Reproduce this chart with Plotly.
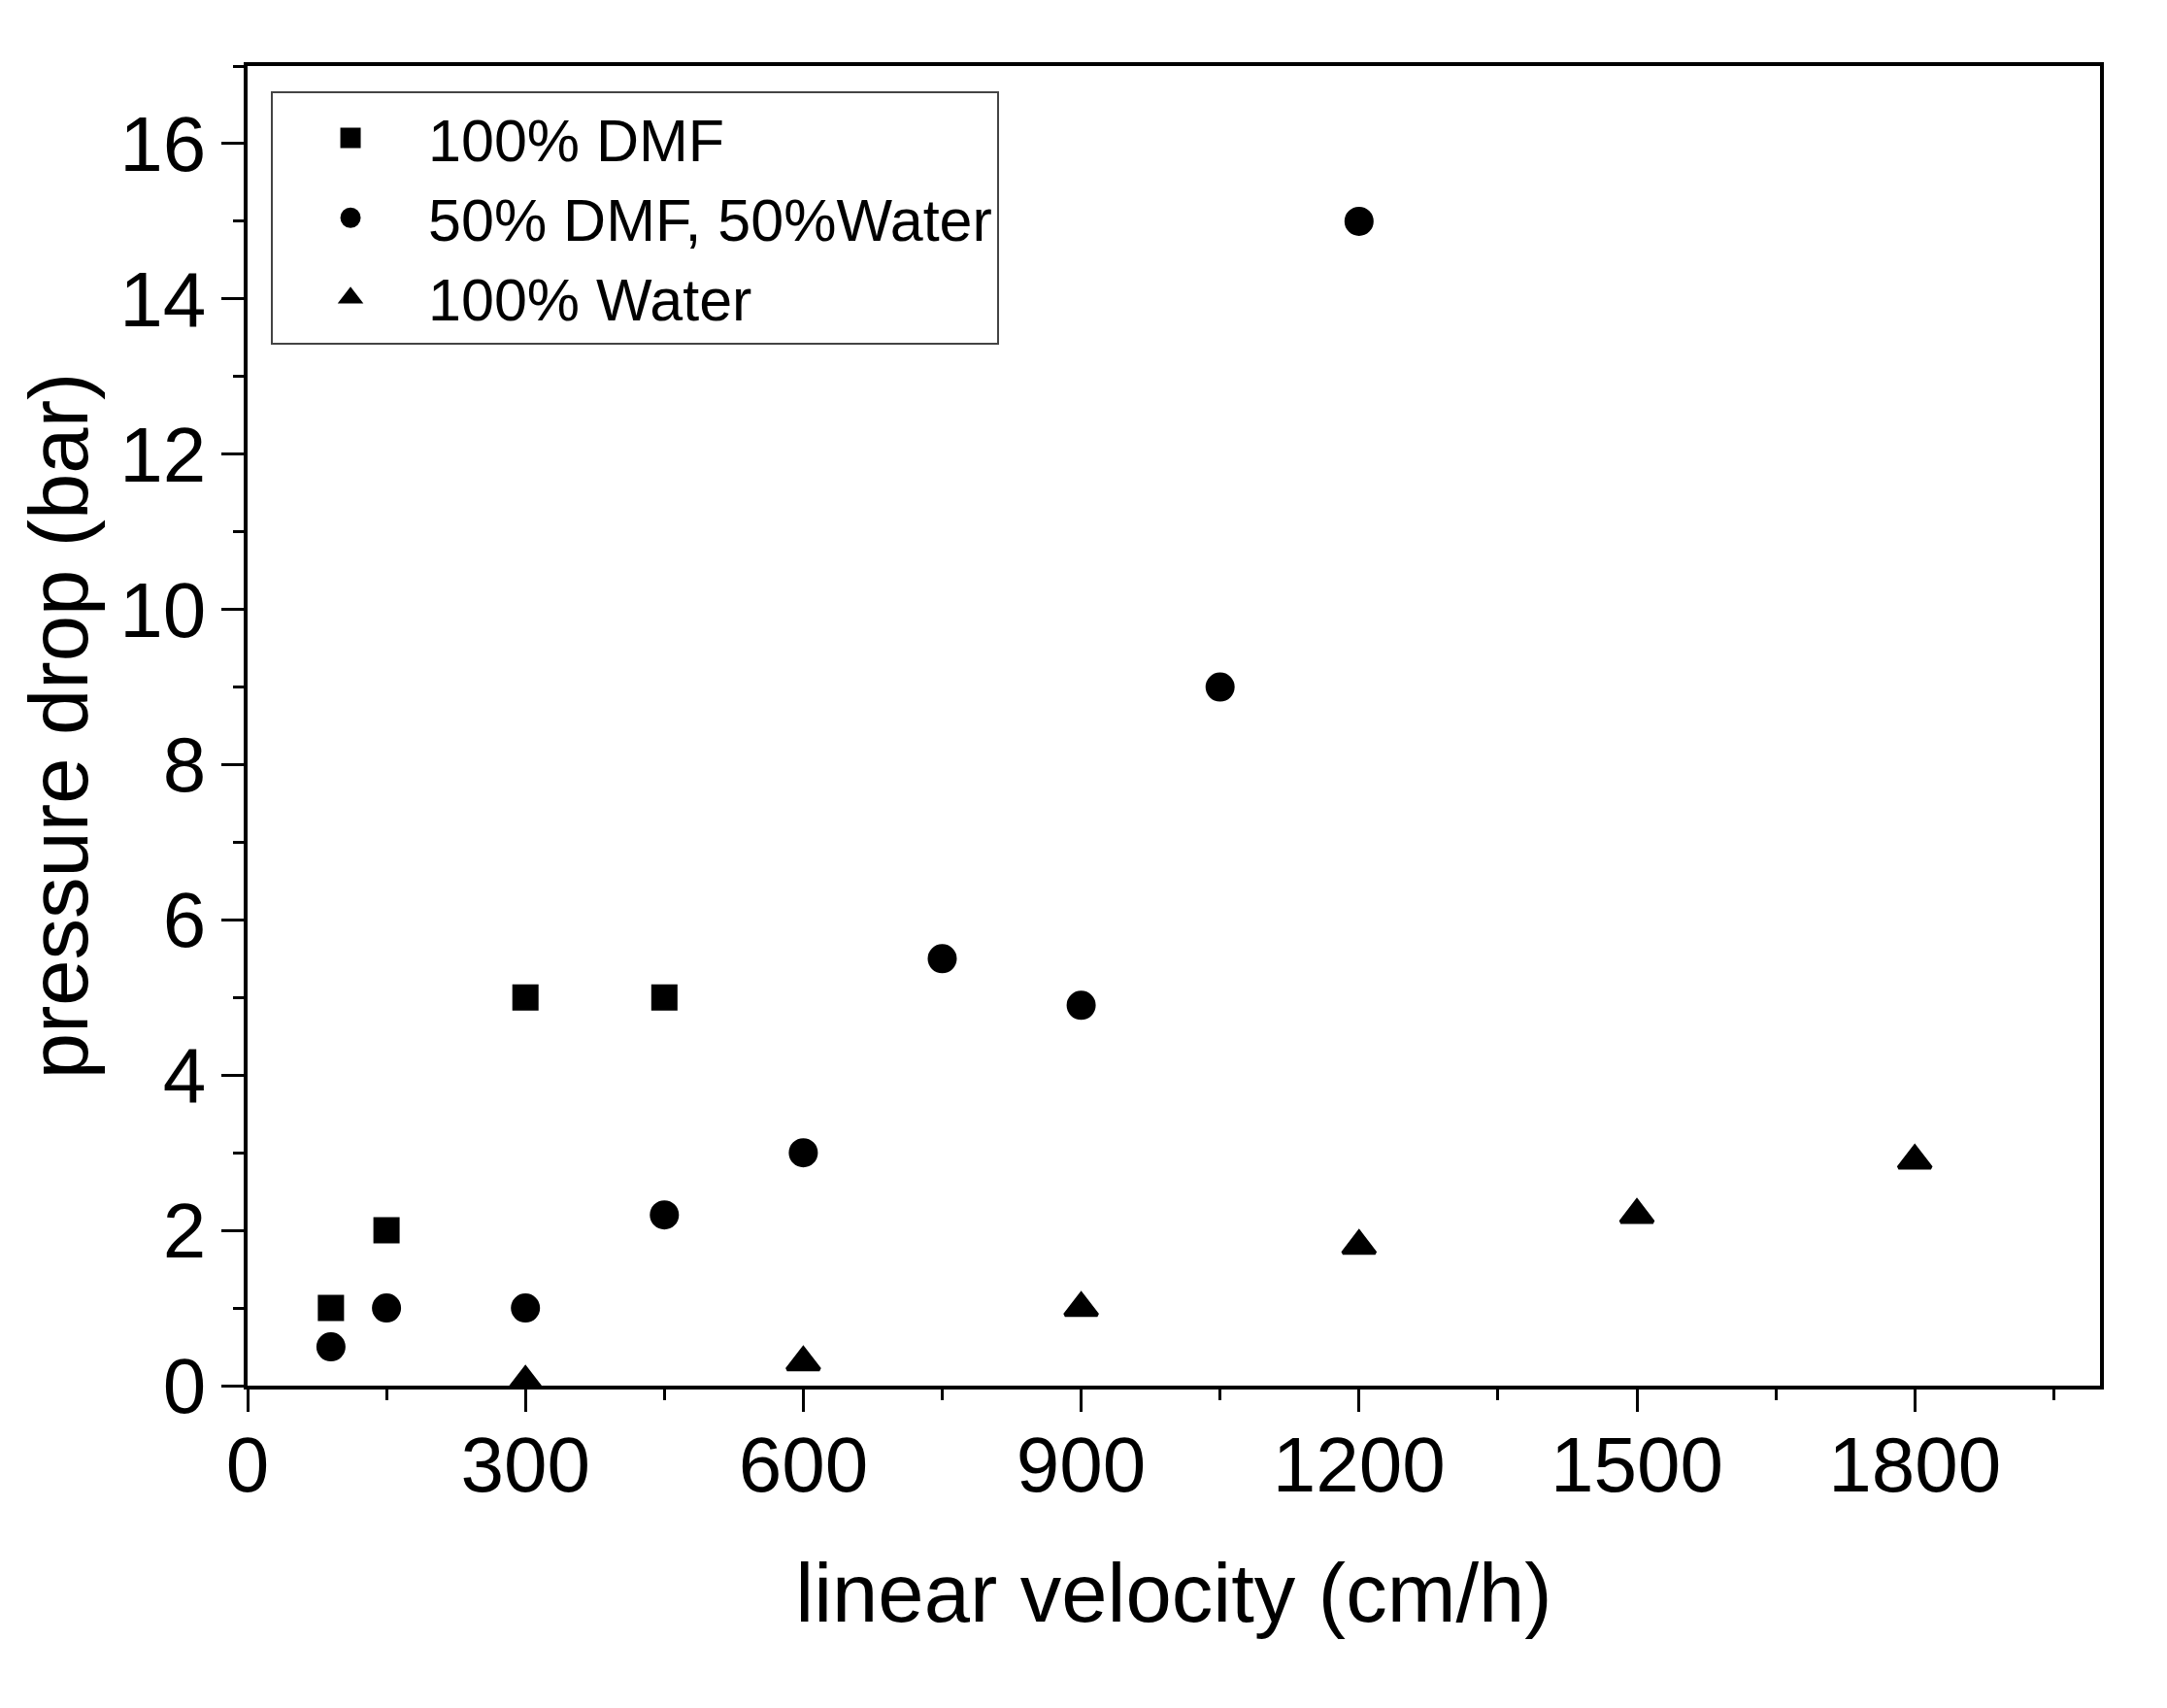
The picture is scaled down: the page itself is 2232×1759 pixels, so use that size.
import plotly.graph_objects as go

# Data
dmf_x = [90, 150, 300, 450]
dmf_y = [1, 2, 5, 5]
mix_x = [90, 150, 300, 450, 600, 750, 900, 1050, 1200]
mix_y = [0.5, 1, 1, 2.2, 3, 5.5, 4.9, 9, 15]
water_x = [300, 600, 900, 1200, 1500, 1800]
water_y = [0.05, 0.3, 1.0, 1.8, 2.2, 2.9]

names = ["100% DMF", "50% DMF, 50%Water", "100% Water"]
FONT = "Liberation Sans, Arial, sans-serif"

fig = go.Figure()
fig.add_trace(go.Scatter(x=dmf_x, y=dmf_y, mode="markers", name=names[0],
                         marker=dict(symbol="square", size=22, color="black",
                                     line=dict(width=5, color="black"))))
fig.add_trace(go.Scatter(x=mix_x, y=mix_y, mode="markers", name=names[1],
                         marker=dict(symbol="circle", size=25, color="black",
                                     line=dict(width=5, color="black"))))
fig.add_trace(go.Scatter(x=water_x, y=water_y, mode="markers", name=names[2],
                         marker=dict(symbol="triangle-up", size=29, color="black",
                                     line=dict(width=4, color="black"))))

axis_common = dict(
    showline=True, linecolor="black", linewidth=3.5, mirror=True,
    showgrid=False, zeroline=False,
    ticks="outside", ticklen=23, tickwidth=3, tickcolor="black",
    tickfont=dict(family=FONT, size=80, color="black"),
)

fig.update_xaxes(
    range=[0, 2000], tick0=0, dtick=300,
    minor=dict(ticks="outside", ticklen=11, tickwidth=3, tickcolor="black", dtick=150, tick0=0),
    ticklabelstandoff=-14,
    title=dict(text="linear velocity (cm/h)", font=dict(family=FONT, size=85, color="black"), standoff=60),
    **axis_common,
)
fig.update_yaxes(
    range=[0, 17], tick0=0, dtick=2,
    minor=dict(ticks="outside", ticklen=11, tickwidth=3, tickcolor="black", dtick=1, tick0=0),
    title=dict(text="pressure drop (bar)", font=dict(family=FONT, size=85, color="black"), standoff=6),
    **axis_common,
)

# the page body has an 8px default margin, so the figure is 8px smaller
fig.update_layout(
    width=2224, height=1751,
    margin=dict(l=247, r=69, t=60, b=332, autoexpand=False),
    paper_bgcolor="white", plot_bgcolor="white",
    showlegend=True,
    legend=dict(
        x=0.0126, y=0.981, xanchor="left", yanchor="top",
        font=dict(family=FONT, size=61, color="black"),
        bordercolor="#444444", borderwidth=2, bgcolor="white",
        itemwidth=150, tracegroupgap=0,
    ),
)

fig.write_html("out.html")
